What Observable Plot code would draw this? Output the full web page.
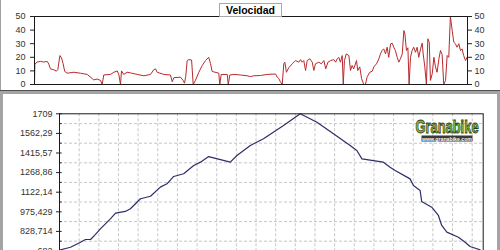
<!DOCTYPE html>
<html><head><meta charset="utf-8">
<script src="https://cdn.jsdelivr.net/npm/d3@7"></script>
<script src="https://cdn.jsdelivr.net/npm/@observablehq/plot@0.6"></script>
<style>
html,body{margin:0;padding:0;background:#fff;}
#wrap{position:relative;width:500px;height:250px;overflow:hidden;font-family:"Liberation Sans",Arial,sans-serif;}
#top{position:absolute;left:0;top:0;}
#bot{position:absolute;left:0;top:94px;}
.bar{position:absolute;}
#title{position:absolute;left:219px;top:3px;width:61px;height:12px;border:1px solid #a8a8a8;background:#fff;font:bold 10.5px "Liberation Sans",Arial,sans-serif;text-align:center;line-height:12px;color:#000;}
#logo{position:absolute;left:413px;top:113px;}
</style>
</head><body>
<div id="wrap">
  <div id="top"></div>
  <div id="bot"></div>
  <div class="bar" style="left:0;top:0;width:1px;height:90px;background:#a0a0a0"></div>
  <div class="bar" style="left:0;top:90px;width:500px;height:1px;background:#505050"></div>
  <div class="bar" style="left:0;top:91px;width:500px;height:3px;background:#a4a4a4"></div>
  <div class="bar" style="left:0;top:91px;width:3px;height:160px;background:#a4a4a4"></div>
  <div class="bar" style="left:497px;top:91px;width:3px;height:160px;background:#a4a4a4"></div>
  <div id="title">Velocidad</div>
  <svg id="logo" width="68" height="32">
    <g transform="translate(34,20) scale(0.68,1)">
      <text text-anchor="middle" font-family="Liberation Sans, Arial, sans-serif" font-weight="bold" font-size="19" fill="#8cc63f" stroke="#2d3b12" stroke-width="0.9">Granabike</text>
    </g>
    <rect x="8.5" y="22.5" width="51" height="6" fill="#3a3a3a"></rect>
    <text x="34" y="27.5" text-anchor="middle" font-family="Liberation Sans, Arial, sans-serif" font-weight="bold" font-size="5.2" fill="#fff">www.granabike.com</text>
  </svg>
</div>
<script>
// Velocidad (km/h) vs distance (km)
const speedKm = [0, 0.02, 0.13, 0.30, 0.46, 0.63, 0.71, 0.79, 0.96, 1.09,
 1.16, 1.26, 1.34, 1.42, 1.50, 1.62, 1.95, 2.28, 2.62, 2.78,
 2.94, 3.11, 3.28, 3.36, 3.44, 3.77, 3.94, 4.11, 4.19, 4.27,
 4.32, 4.43, 4.60, 4.77, 5.10, 5.43, 5.76, 5.92, 6.01, 6.09,
 6.42, 6.75, 6.84, 6.92, 7.25, 7.38, 7.45, 7.51, 7.58, 7.66,
 7.80, 7.88, 7.99, 8.16, 8.33, 8.49, 8.65, 8.74, 8.82, 8.90,
 9.15, 9.20, 9.27, 9.57, 9.62, 9.70, 9.90, 10.23, 10.56, 10.72,
 10.89, 11.22, 11.55, 11.97, 12.05, 12.13, 12.21, 12.30, 12.38, 12.43,
 12.51, 12.63, 12.80, 12.96, 13.12, 13.21, 13.29, 13.37, 13.46, 13.54,
 13.67, 13.79, 13.87, 13.95, 14.12, 14.24, 14.37, 14.46, 14.57, 14.70,
 14.86, 14.95, 15.03, 15.11, 15.19, 15.28, 15.33, 15.39, 15.48, 15.61,
 15.69, 15.77, 15.85, 15.99, 16.05, 16.15, 16.24, 16.35, 16.43, 16.52,
 16.65, 16.77, 16.85, 16.98, 17.10, 17.18, 17.26, 17.34, 17.43, 17.51,
 17.59, 17.68, 17.76, 17.84, 17.92, 18.01, 18.09, 18.17, 18.26, 18.34,
 18.39, 18.47, 18.54, 18.60, 18.67, 18.75, 18.83, 18.92, 19.00, 19.08,
 19.17, 19.25, 19.30, 19.38, 19.46, 19.53, 19.60, 19.66, 19.75, 19.83,
 19.91, 19.99, 20.08, 20.16, 20.24, 20.32, 20.41, 20.49, 20.57, 20.65,
 20.74, 20.82, 20.90, 20.98, 21.07, 21.15, 21.23, 21.31, 21.40, 21.48];
const speedVal = [0, 15, 16.5, 17, 16.5, 17, 15, 11.5, 10.8, 9.8,
 11, 21.3, 19.6, 15.4, 9.6, 8.3, 9, 8.3, 7.4, 5.4,
 3.4, 4, 3, 0, 7, 7.4, 9, 10, 7, 0,
 10, 7.4, 9, 8.5, 7.4, 6.4, 7.4, 10.8, 11.5, 9,
 7.4, 7, 2, 5, 5.4, 3, 1, 6, 17.6, 18.3,
 18, 0, 3, 9, 14, 17.6, 20, 15.4, 9.6, 9.3,
 8.3, 0, 7.4, 7.4, 0, 7, 7.4, 7, 6.4, 5.8,
 6.4, 6.6, 7.4, 7.7, 5.4, 4.4, 2, 0, 15.2, 16.4,
 9, 12.5, 15.2, 17.6, 16.4, 18.3, 16.4, 17.6, 10.3, 17.6,
 18.9, 16.4, 10.3, 15.2, 16.4, 15.2, 17.6, 11.5, 16.4, 17.6,
 18.3, 16.4, 18.9, 20, 16.4, 21.3, 0, 17.6, 22.5, 21.3,
 10.3, 14, 11.5, 17.6, 10.3, 13, 4.4, 0, 0, 5.8,
 9, 9.8, 13, 15.2, 18.9, 22.5, 25, 26.2, 22.5, 27.4,
 20, 29.9, 30.4, 27.4, 25, 20, 16.4, 18.9, 22.5, 39.7,
 37.3, 25, 27, 0, 20, 25, 27.4, 23.7, 27.4, 20,
 26.2, 30.4, 22.5, 13, 0, 33.6, 31.1, 3, 8, 20,
 13, 9, 18.9, 25, 22, 0, 3, 21.3, 20, 50,
 39.7, 31.1, 30, 27.4, 30, 25, 26.2, 21.3, 17.6, 20];
const speedTicks = [0, 10, 20, 30, 40, 50];

// Altitud (m) vs distance (km)
const elevKm = [0, 0.05, 0.56, 1.07, 1.32, 1.58, 1.83, 2.08, 2.59, 2.85,
 3.35, 3.61, 4.12, 4.63, 5.13, 5.47, 5.81, 6.32, 6.83, 7.17,
 7.59, 8.69, 9.03, 9.71, 10.38, 11.40, 12.25, 13.10, 13.94, 14.79,
 15.13, 15.39, 15.97, 16.48, 16.82, 17.08, 17.84, 18.01, 18.35, 18.43,
 18.94, 19.28, 19.45, 19.71, 20.30, 20.64, 20.89, 21.40];
const elevVal = [685, 691, 710, 748, 768, 768, 806, 848, 923, 965,
 978, 998, 1073, 1092, 1160, 1185, 1240, 1260, 1322, 1347,
 1389, 1347, 1397, 1472, 1522, 1621, 1709, 1646, 1559, 1472,
 1434, 1372, 1359, 1347, 1309, 1285, 1222, 1172, 1135, 1053,
 1010, 948, 873, 823, 785, 748, 716, 691];
const elevTicks = [682, 828.714, 975.429, 1122.14, 1268.86, 1415.57, 1562.29, 1709];
const elevLabels = ["682", "828,714", "975,429", "1122,14", "1268,86", "1415,57", "1562,29", "1709"];
const gridKm = [1,2,3,4,5,6,7,8,9,10,11,12,13,14,15,16,17,18,19,20,21];

const speedData = speedKm.map((d, i) => ({d, v: speedVal[i]}));
const elevData = elevKm.map((d, i) => ({d, e: elevVal[i]}));
const midTicks = elevTicks.slice(1).map((t, i) => (t + elevTicks[i]) / 2);

const style = {fontFamily: "Liberation Sans, Arial, sans-serif", fontSize: "9px", color: "#333", background: "transparent", overflow: "visible"};

const topChart = Plot.plot({
  width: 500, height: 91,
  marginLeft: 34, marginRight: 33, marginTop: 16, marginBottom: 7,
  style,
  x: {domain: [0, 21.5], axis: null},
  y: {domain: [0, 50], label: null, axis: null},
  marks: [
    Plot.axisY(speedTicks, {anchor: "left", tickSize: 4, tickPadding: 5, stroke: "#222"}),
    Plot.axisY(speedTicks, {anchor: "right", tickSize: 4, tickPadding: 3, stroke: "#222"}),
    Plot.line(speedData, {x: "d", y: "v", stroke: "#b82a2e", strokeWidth: 1}),
    Plot.frame({stroke: "#1a1a1a"})
  ]
});
document.getElementById("top").append(topChart);

const botChart = Plot.plot({
  width: 500, height: 175,
  marginLeft: 59, marginRight: 17.3, marginTop: 19.3, marginBottom: 18.5,
  style,
  x: {domain: [0, 21.56], axis: null},
  y: {domain: [682, 1709], label: null, axis: null},
  marks: [
    Plot.ruleX(gridKm, {x: d => d, stroke: "#c6c6c6", strokeDasharray: "3,2"}),
    Plot.ruleY(midTicks, {y: d => d, stroke: "#c6c6c6", strokeDasharray: "3,2"}),
    Plot.axisY(elevTicks, {anchor: "left", tickSize: 3, tickPadding: 4, stroke: "#222",
      tickFormat: d => elevLabels[elevTicks.indexOf(d)]}),
    Plot.ruleY(elevTicks, {y: d => d, insetRight: 421, stroke: "#222"}),
    Plot.ruleY(midTicks, {y: d => d, insetRight: 421, stroke: "#222"}),
    Plot.line(elevData, {x: "d", y: "e", stroke: "#2e2e68", strokeWidth: 1.2}),
    Plot.frame({stroke: "#1a1a1a"})
  ]
});
document.getElementById("bot").append(botChart);
</script>
</body></html>
